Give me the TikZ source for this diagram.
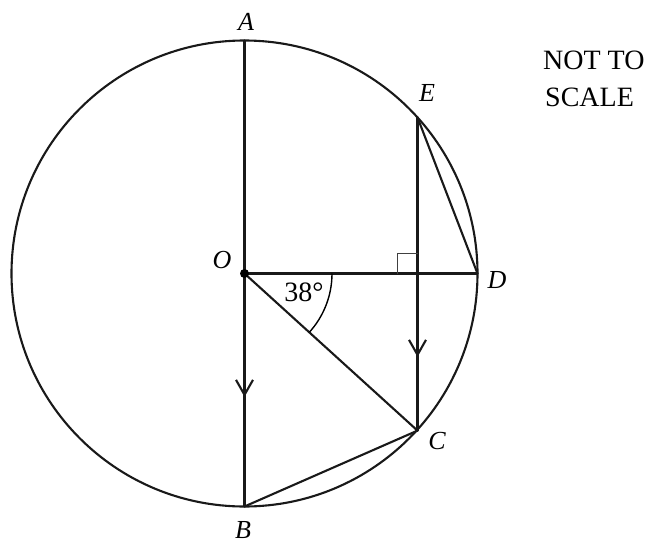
\documentclass[tikz,border=0pt]{standalone}
\usepackage{fontspec}
\setmainfont{Liberation Serif}
\usetikzlibrary{arrows.meta,decorations.markings}
\tikzset{
  geo/.style={line width=2.1pt, black!90, line cap=round, line join=round},
  lbl/.style={inner sep=0pt, font=\fontsize{26}{30}\selectfont\itshape},
  txt/.style={inner sep=0pt, font=\fontsize{28}{34}\selectfont},
  midarrow/.style={postaction={decorate, decoration={markings,
     mark=at position #1 with {\arrow{Straight Barb[length=15pt,width=17pt,line width=2.1pt]}}}}},
  rightangle/.style={line width=1.2pt, black!75}
}
\begin{document}
\begin{tikzpicture}[x=1pt,y=-1pt]
\useasboundingbox (0,0) rectangle (654,544);
% points
\coordinate (O) at (244.5,273.5);
\coordinate (A) at (244.5,40.5);
\coordinate (B) at (244.5,506.5);
\coordinate (D) at (477.5,273.5);
\coordinate (E) at (417.5,117.4);
\coordinate (C) at (417.5,430.6);
\coordinate (F) at (417.5,273.5);
% circle
\draw[geo] (O) circle[radius=233pt];
% diameter AB with arrow
\draw[geo] (A) -- (O);
\draw[geo, midarrow=0.53] (O) -- (B);
% OD
\draw[geo] (O) -- (D);
% chord EC with arrow
\draw[geo, midarrow=0.765] (E) -- (C);
% ED, OC, BC
\draw[geo] (E) -- (D);
\draw[geo] (O) -- (C);
\draw[geo] (B) -- (C);
% right angle mark
\draw[rightangle] (F) ++(-20,0) -- ++(0,-20) -- ++(20,0);
% angle arc
\draw[line width=1.4pt] (O) ++(87.5pt,0pt) arc[start angle=0, end angle=-42, radius=87.5pt];
% centre dot
\fill (O) circle[radius=4.5pt];
% labels
\node[lbl] (lA) at (246,22) {A};
\node[lbl] (lE) at (427,93) {E};
\node[lbl] (lO) at (222,260) {O};
\node[lbl] (lD) at (497,280) {D};
\node[lbl] (lC) at (437,441) {C};
\node[lbl] (lB) at (243,530) {B};
\node[txt] (ang) at (304,292) {38°};
\node[txt, anchor=base west] (nt) at (543,69) {NOT TO};
\node[txt, anchor=base west] (sc) at (545,106) {SCALE};
\end{tikzpicture}
\end{document}
